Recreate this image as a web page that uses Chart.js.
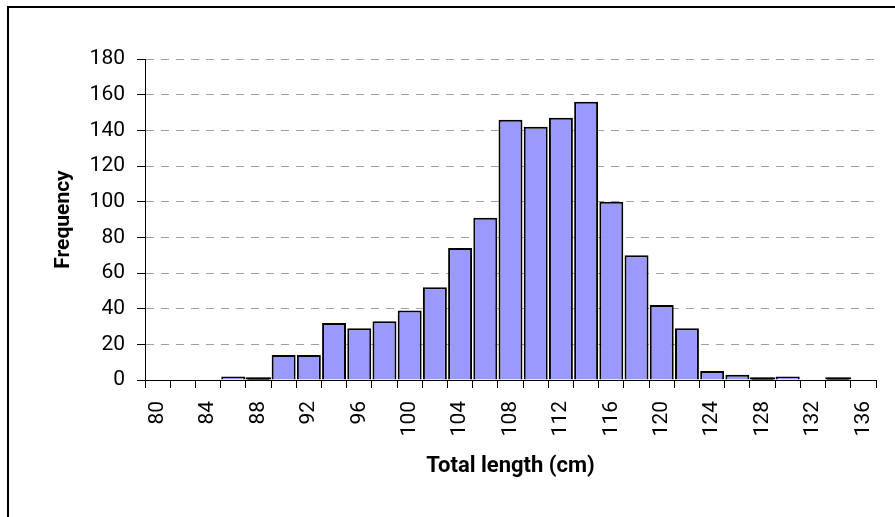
<!DOCTYPE html>
<html>
<head>
<meta charset="utf-8">
<script src="https://cdn.jsdelivr.net/npm/chart.js@4"></script>
<style>
  html, body { margin: 0; padding: 0; background: #fff; }
  #wrap { position: relative; width: 895px; height: 517px; }
  #frame { position: absolute; left: 7px; top: 6px; right: -10px; bottom: -10px;
           border-left: 2px solid #000; border-top: 2px solid #000; pointer-events: none; }
</style>
</head>
<body>
<div id="wrap">
  <canvas id="chart" width="895" height="517"></canvas>
  <div id="frame"></div>
</div>
<script>
// length classes (cm), one bar per 2 cm
const lengths = [80, 82, 84, 86, 88, 90, 92, 94, 96, 98, 100, 102, 104, 106, 108,
                 110, 112, 114, 116, 118, 120, 122, 124, 126, 128, 130, 132, 134, 136];
const frequency = [0, 0, 0, 2, 1, 14, 14, 32, 29, 33, 39, 52, 74, 91, 146,
                   142, 147, 156, 100, 70, 42, 29, 5, 3, 1, 2, 0, 1, 0];
// only every other class gets a label
const shownLabels = [80, 84, 88, 92, 96, 100, 104, 108, 112, 116, 120, 124, 128, 132, 136];

const yMax = 180;
const yStep = 20;

Chart.defaults.font.family = "Roboto, 'Liberation Sans', Arial, sans-serif";
Chart.defaults.color = '#000';

const pad = { left: 47, top: 59, right: 19, bottom: 33 };

new Chart(document.getElementById('chart'), {
    type: 'bar',
    data: {
        labels: lengths,
        datasets: [{
            label: 'Frequency',
            data: frequency,
            // bars of a single fish are too thin for a border, fill them black
            backgroundColor: ctx => ctx.raw <= 1 ? '#000' : '#9999FF',
            inflateAmount: ctx => ctx.raw <= 1 ? 1 : 'auto',
            borderColor: '#000',
            borderWidth: 2,
            borderSkipped: 'start',
            barPercentage: 0.95,
            categoryPercentage: 1
        }]
    },
    options: {
        responsive: false,
        animation: false,
        layout: { padding: pad },
        plugins: {
            legend: { display: false },
            tooltip: { enabled: false }
        },
        scales: {
            x: {
                grid: {
                    offset: true,
                    drawOnChartArea: false,
                    color: '#000',
                    tickLength: 8
                },
                border: { color: '#000', width: 1 },
                ticks: {
                    autoSkip: false,
                    minRotation: 90,
                    maxRotation: 90,
                    padding: 13,
                    font: { size: 21 },
                    callback: function(value) {
                        const v = lengths[value];
                        return shownLabels.includes(v) ? String(v) : '';
                    }
                },
                title: {
                    display: true,
                    text: 'Total length (cm)',
                    font: { size: 22, weight: 'bold' }
                },
                afterFit: scale => {
                    scale.height = 517 - pad.bottom - 380;
                    // keep the plot out to the right edge, labels are rotated
                    scale.paddingLeft = 0;
                    scale.paddingRight = 0;
                }
            },
            y: {
                min: 0,
                max: yMax,
                grid: {
                    color: ctx => ctx.tick && ctx.tick.value === 0 ? 'rgba(0,0,0,0)' : '#a0a0a0',
                    tickColor: '#000',
                    tickLength: 8,
                    tickBorderDash: []
                },
                border: { color: '#000', width: 1, dash: [8, 7] },
                ticks: {
                    stepSize: yStep,
                    padding: 12,
                    font: { size: 21 }
                },
                title: {
                    display: true,
                    text: 'Frequency',
                    font: { size: 21, weight: 'bold' }
                },
                afterFit: scale => { scale.width = 145 - pad.left; }
            }
        }
    }
});
</script>
</body>
</html>
